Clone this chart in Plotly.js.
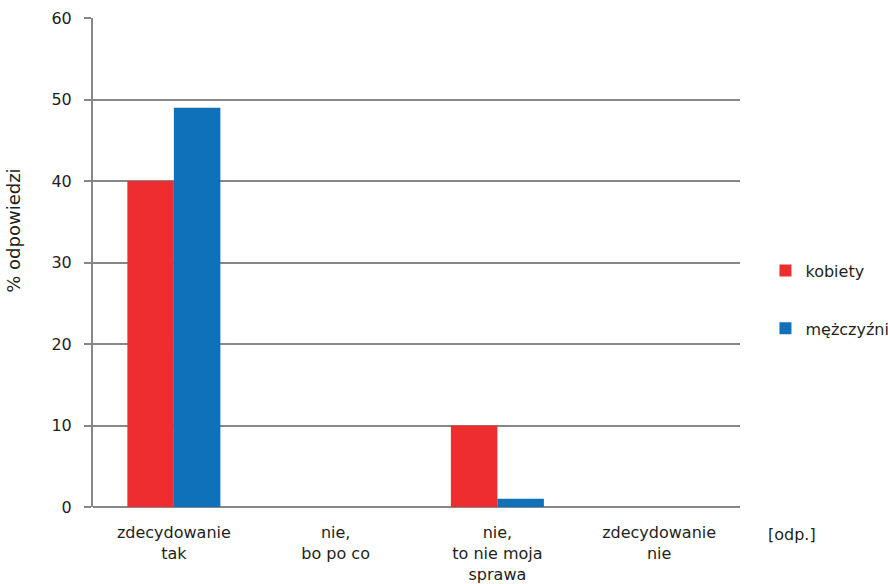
<!DOCTYPE html>
<html>
<head>
<meta charset="utf-8">
<script src="https://cdn.plot.ly/plotly-3.0.1.min.js"></script>
<style>html,body{margin:0;padding:0;background:#fff;}#chart{width:888px;height:584px;}</style>
</head>
<body>
<div id="chart"></div>
<script>
const categories = ["zdecydowanie<br>tak", "nie,<br>bo po co", "nie,<br>to nie moja<br>sprawa", "zdecydowanie<br>nie"];
const kobiety = [40, 0, 10, 0];
const mezczyzni = [49, 0, 1, 0];
const yTicks = [0, 10, 20, 30, 40, 50, 60];

const fontFam = "DejaVu Sans, Arial, sans-serif";
const txt = "#231f20";
const grid = "#878787";

const data = [
  {type: "bar", name: "kobiety", x: categories, y: kobiety, marker: {color: "#ee2e2e", line: {width: 0}}, legendgroup: "a"},
  {type: "bar", name: "mężczyźni", x: categories, y: mezczyzni, marker: {color: "#0e71b9", line: {width: 0}}, legendgroup: "b"}
];

const layout = {
  width: 888, height: 584,
  margin: {l: 93, r: 148, t: 18, b: 77},
  paper_bgcolor: "#fff", plot_bgcolor: "#fff",
  barmode: "group", bargap: 0.425, bargroupgap: 0,
  font: {family: fontFam, size: 16, color: txt},
  xaxis: {
    type: "category", showgrid: false, zeroline: false, showline: false,
    ticks: "", ticklabelstandoff: 14,
    tickfont: {family: fontFam, size: 16, color: txt}
  },
  yaxis: {
    range: [0, 60], tickvals: yTicks, ticktext: yTicks.map(String),
    showgrid: true, gridcolor: grid, gridwidth: 2,
    zeroline: true, zerolinecolor: grid, zerolinewidth: 2,
    showline: true, linecolor: grid, linewidth: 2,
    ticks: "outside", ticklen: 7, tickwidth: 2, tickcolor: grid,
    ticklabelstandoff: 9,
    tickfont: {family: fontFam, size: 16, color: txt}
  },
  legend: {
    xref: "container", yref: "container",
    x: 0.862, y: 0.487, xanchor: "left", yanchor: "middle",
    tracegroupgap: 34, traceorder: "grouped",
    font: {family: fontFam, size: 16, color: txt},
    bgcolor: "rgba(0,0,0,0)"
  },
  annotations: [
    {text: "% odpowiedzi", xref: "paper", yref: "paper", x: -0.122, y: 0.565, xanchor: "center", yanchor: "middle",
     textangle: -90, showarrow: false, font: {family: fontFam, size: 18, color: txt}},
    {text: "[odp.]", xref: "paper", yref: "paper", x: 1.04, y: -0.033, xanchor: "left", yanchor: "top", showarrow: false,
     font: {family: fontFam, size: 16, color: txt}}
  ]
};

Plotly.newPlot("chart", data, layout, {displayModeBar: false, staticPlot: true});
</script>
</body>
</html>
